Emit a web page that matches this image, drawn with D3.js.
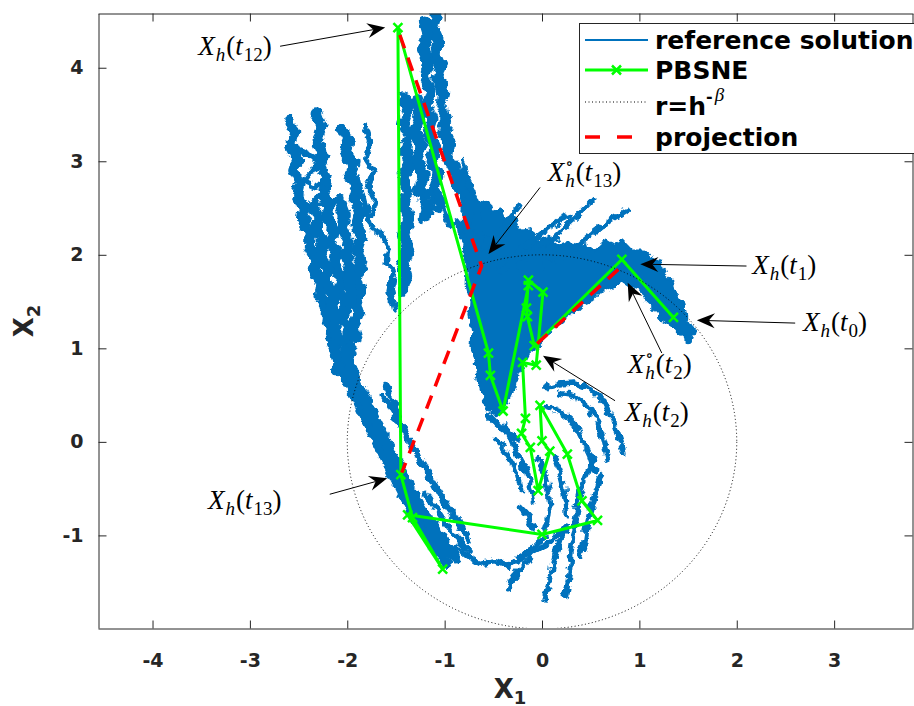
<!DOCTYPE html>
<html>
<head>
<meta charset="utf-8">
<title>PBSNE projection</title>
<script src="https://cdn.jsdelivr.net/npm/d3@7"></script>
<style>
  body { margin: 0; background: #fff; }
</style>
</head>
<body>
<svg id="chart" width="914" height="706"></svg>
<script>
// ---- data ----
var xTicks = [-4, -3, -2, -1, 0, 1, 2, 3];
var yTicks = [-1, 0, 1, 2, 3, 4];
var radius = [2]; // r = h^-beta

// PBSNE iterates (x1, x2)
var pbsne = [[1.35,1.33],[0.82,1.95],[-0.08,1.03],[-0.15,1.34],[-0.16,1.43],[-0.14,1.73],[0.01,1.60],
  [-0.06,0.82],[-0.20,0.85],[-0.17,0.25],[-0.21,0.09],[-0.12,-0.06],[-0.04,-0.52],[0.08,-0.10],
  [0.00,0.01],[-0.02,0.39],[0.26,-0.13],[0.41,-0.63],[0.57,-0.84],[0.00,-0.99],[-1.38,-0.78],
  [-1.02,-1.36],[-1.33,-0.81],[-1.45,-0.35],[-1.48,4.43],[-0.55,0.95],[-0.53,0.71],[-0.40,0.33],
  [-0.14,1.67]];

// projections onto the circle
var projT2 = [[-0.05,1.05],[0.80,1.86]];
var projT13 = [[-1.46,4.35],[-0.62,1.88],[-1.44,-0.33]];

// reference solution: dense fan outline
var refBlobs = [
  [[-0.82,3.01],[-0.76,2.88],[-0.78,2.74],[-0.70,2.67],[-0.64,2.53],[-0.55,2.58],[-0.51,2.45],[-0.43,2.49],
   [-0.37,2.34],[-0.29,2.39],[-0.23,2.26],[-0.12,2.28],[-0.04,2.15],[0.06,2.19],[0.14,2.09],[0.25,2.13],
   [0.34,2.04],[0.44,2.11],[0.54,2.04],[0.65,2.15],[0.74,2.09],[0.82,2.15],[0.92,2.04],[1.03,2.04],
   [1.11,1.96],[1.21,1.92],[1.25,1.79],[1.34,1.70],[1.38,1.56],[1.46,1.46],[1.48,1.32],[1.56,1.19],
   [1.52,1.06],[1.42,1.15],[1.34,1.25],[1.23,1.32],[1.16,1.42],[1.07,1.51],[1.01,1.62],[0.90,1.66],
   [0.82,1.72],[0.72,1.66],[0.62,1.62],[0.54,1.53],[0.44,1.49],[0.37,1.42],[0.27,1.36],[0.18,1.27],
   [0.10,1.21],[0.03,1.10],[-0.04,1.02],[-0.12,0.97],[-0.18,0.85],[-0.25,0.74],[-0.29,0.59],[-0.35,0.46],
   [-0.41,0.33],[-0.49,0.29],[-0.58,0.40],[-0.62,0.55],[-0.66,0.70],[-0.68,0.87],[-0.72,1.03],[-0.71,1.19],
   [-0.74,1.35],[-0.73,1.51],[-0.77,1.67],[-0.76,1.83],[-0.80,1.99],[-0.79,2.15],[-0.83,2.31],[-0.81,2.47],
   [-0.85,2.63],[-0.83,2.82]]
];
// reference solution: wide bands (columns and outer arcs)
var refBands = [
  [[-2.59,3.44],[-2.54,3.31],[-2.58,3.17],[-2.51,3.03],[-2.55,2.90],[-2.48,2.76],[-2.51,2.63],[-2.44,2.49],[-2.46,2.37],[-2.38,2.23],[-2.39,2.10],[-2.32,1.96],[-2.34,1.83],[-2.26,1.69],[-2.28,1.56],[-2.20,1.42],[-2.21,1.30],[-2.14,1.16],[-2.15,1.03],[-2.09,0.89],[-2.11,0.76]],
  [[-2.32,3.52],[-2.27,3.38],[-2.31,3.22],[-2.25,3.09],[-2.28,2.96],[-2.22,2.82],[-2.25,2.69],[-2.18,2.55],[-2.21,2.42],[-2.14,2.28],[-2.17,2.15],[-2.10,2.01],[-2.13,1.88],[-2.06,1.75],[-2.09,1.62],[-2.01,1.48],[-2.05,1.35],[-1.98,1.21],[-2.01,1.08],[-1.96,0.95],[-1.99,0.85]],
  [[-2.06,3.35],[-1.99,3.22],[-2.02,3.09],[-1.94,2.98],[-1.97,2.85],[-1.90,2.71],[-1.93,2.58],[-1.87,2.44],[-1.91,2.31],[-1.86,2.17],[-1.90,2.05],[-1.85,1.91],[-1.90,1.78],[-1.86,1.64],[-1.92,1.51],[-1.88,1.37],[-1.94,1.24],[-1.91,1.10]],
  [[-2.36,2.53],[-2.30,2.39],[-2.32,2.26],[-2.25,2.12],[-2.27,1.99],[-2.20,1.85],[-2.22,1.72],[-2.15,1.58],[-2.17,1.46],[-2.11,1.32],[-2.13,1.19],[-2.07,1.05]],
  [[-2.08,2.58],[-2.02,2.42],[-2.05,2.28],[-1.99,2.15],[-2.01,2.01],[-1.97,1.88],[-1.99,1.75],[-1.96,1.62],[-1.98,1.48]],
  [[-1.08,4.57],[-1.12,4.43],[-1.06,4.29],[-1.10,4.15],[-1.04,4.01],[-1.07,3.88],[-1.01,3.74],[-1.04,3.60],[-0.98,3.46],[-1.01,3.32],[-0.95,3.18],[-0.97,3.04],[-0.89,2.90],[-0.88,2.76],[-0.80,2.63],[-0.76,2.49],[-0.68,2.37],[-0.64,2.23],[-0.55,2.10],[-0.52,1.96]],
  [[-1.21,4.49],[-1.17,4.35],[-1.22,4.19],[-1.16,4.05],[-1.21,3.89],[-1.14,3.75],[-1.19,3.59],[-1.12,3.45],[-1.17,3.29],[-1.10,3.15],[-1.14,2.99],[-1.07,2.85],[-1.11,2.69],[-1.03,2.56]],
  [[-1.42,3.70],[-1.37,3.57],[-1.42,3.42],[-1.36,3.27],[-1.41,3.12],[-1.36,2.97],[-1.42,2.82],[-1.37,2.67],[-1.42,2.52],[-1.37,2.37],[-1.42,2.22],[-1.38,2.07],[-1.43,1.92],[-1.39,1.77],[-1.43,1.62]],
  [[-1.29,3.65],[-1.25,3.49],[-1.31,3.33],[-1.24,3.17],[-1.29,3.01],[-1.22,2.85],[-1.26,2.69],[-1.18,2.53],[-1.20,2.39]],
  [[-2.15,1.03],[-2.08,0.81],[-1.97,0.60],[-1.87,0.39],[-1.77,0.17],[-1.66,-0.07],[-1.54,-0.31],[-1.44,-0.52],[-1.34,-0.74],[-1.20,-0.95],[-1.08,-1.15],[-0.98,-1.30]],
  [[-2.02,0.97],[-1.95,0.74],[-1.85,0.52],[-1.75,0.30],[-1.62,0.04],[-1.51,-0.20],[-1.39,-0.44],[-1.27,-0.66],[-1.15,-0.87],[-1.03,-1.06],[-0.89,-1.23]]
];
// reference solution: thin strands
var refStrands = [
  [[-1.82,3.38],[-1.77,3.22],[-1.81,3.03],[-1.73,2.90],[-1.79,2.74],[-1.71,2.58],[-1.75,2.42]],
  [[-1.89,2.82],[-1.83,2.58],[-1.79,2.42],[-1.74,2.28],[-1.65,2.23],[-1.58,2.10],[-1.60,1.92],[-1.52,1.83],[-1.56,1.62],[-1.51,1.40]],
  [[-2.49,3.12],[-2.28,3.01],[-2.43,2.79],[-2.23,2.69],[-2.38,2.53],[-2.13,2.58]],
  [[-1.60,0.63],[-1.54,0.44],[-1.46,0.25],[-1.36,0.01],[-1.25,-0.20],[-1.13,-0.42],[-0.99,-0.69],[-0.86,-0.87],[-0.74,-1.06]],
  [[-1.63,0.49],[-1.51,0.28],[-1.41,0.10],[-1.28,-0.12],[-1.17,-0.33],[-1.05,-0.55],[-0.92,-0.76],[-0.81,-0.93]],
  [[-1.20,-0.55],[-1.10,-0.69],[-1.00,-0.85],[-0.89,-1.01],[-0.76,-1.15]],
  [[-0.89,-1.11],[-0.76,-1.22],[-0.64,-1.30],[-0.48,-1.27],[-0.33,-1.33],[-0.23,-1.25],[-0.10,-1.15],[0.03,-1.01]],
  [[-0.35,-1.57],[-0.28,-1.43],[-0.21,-1.33],[-0.09,-1.19],[0.03,-1.11],[0.13,-1.01],[0.24,-0.95]],
  [[0.03,-1.70],[0.06,-1.54],[0.10,-1.38],[0.14,-1.22],[0.18,-1.06],[0.25,-0.90]],
  [[0.24,-1.65],[0.27,-1.49],[0.29,-1.27],[0.31,-1.06],[0.34,-0.85],[0.37,-0.63],[0.41,-0.47],[0.47,-0.31],[0.54,-0.20]],
  [[0.39,-1.22],[0.44,-1.06],[0.47,-0.85],[0.51,-0.69],[0.55,-0.52],[0.60,-0.36]],
  [[0.05,0.58],[0.18,0.62],[0.34,0.63],[0.49,0.57],[0.63,0.44],[0.73,0.22],[0.80,0.01],[0.84,-0.12]],
  [[0.18,0.52],[0.34,0.49],[0.47,0.39],[0.57,0.22],[0.64,0.01],[0.68,-0.18]],
  [[0.03,0.39],[0.18,0.33],[0.31,0.22],[0.41,0.03],[0.49,-0.15],[0.54,-0.31]],
  [[-0.46,0.01],[-0.38,-0.10],[-0.31,-0.22],[-0.25,-0.36],[-0.21,-0.52]],
  [[-0.38,0.17],[-0.31,0.01],[-0.25,-0.15],[-0.16,-0.31],[-0.12,-0.47],[-0.09,-0.63]],
  [[-0.02,-0.20],[0.03,-0.36],[0.06,-0.52],[0.08,-0.69],[0.06,-0.85],[0.03,-0.95]],
  [[0.13,-0.15],[0.18,-0.31],[0.22,-0.47],[0.24,-0.63],[0.25,-0.79]],
  [[-0.55,0.28],[-0.45,0.17],[-0.35,0.10],[-0.25,0.03]],
  [[-0.23,-0.69],[-0.14,-0.79],[-0.10,-0.93]],
  [[-0.79,2.85],[-0.71,2.69],[-0.76,2.58],[-0.66,2.45],[-0.72,2.31],[-0.61,2.21],[-0.66,2.05],[-0.53,1.96]],
  [[-1.25,2.58],[-1.15,2.69],[-1.10,2.47],[-1.00,2.53],[-0.95,2.31],[-0.86,2.37],[-0.82,2.15]],
  [[-0.23,1.88],[-0.02,2.04],[0.18,2.24],[0.37,2.42],[0.54,2.60]],
  [[0.03,1.88],[0.29,2.04],[0.49,2.21],[0.70,2.37],[0.86,2.47]],
  [[-0.38,1.92],[-0.17,2.10],[0.03,2.26],[0.18,2.37],[0.29,2.42]],
  [[-0.43,1.83],[-0.23,1.96],[-0.02,2.10],[0.16,2.17]],
  [[-0.53,2.05],[-0.43,2.26],[-0.31,2.42],[-0.23,2.53]]
];

// annotations: tail, tip, label anchor (data coords), label parts
var notes = [
  {tail: [-2.69,4.23], tip: [-1.61,4.43], at: [-3.53,4.14], circ: false, idx: "12"},
  {tail: [-0.02,2.72], tip: [-0.55,2.01], at: [0.06,2.79],  circ: true,  idx: "13"},
  {tail: [2.10,1.88],  tip: [1.01,1.90],  at: [2.16,1.80],  circ: false, idx: "1"},
  {tail: [2.60,1.27],  tip: [1.59,1.30],  at: [2.68,1.19],  circ: false, idx: "0"},
  {tail: [1.23,0.95],  tip: [0.88,1.70],  at: [0.88,0.74],  circ: true,  idx: "2"},
  {tail: [0.75,0.44],  tip: [0.01,0.92],  at: [0.85,0.22],  circ: false, idx: "2"},
  {tail: [-2.18,-0.56], tip: [-1.59,-0.39], at: [-3.43,-0.72], circ: false, idx: "13"}
];

var legendLabels = ["reference solution", "PBSNE", "r=h", "projection"];

// ---- drawing ----
var blue = "#0072BD", green = "#00FF00", red = "#FF0000", ink = "#262626";
var svg = d3.select("#chart");
var x = d3.scaleLinear().domain([-4.56, 3.81]).range([98, 913]);
var y = d3.scaleLinear().domain([-1.99, 4.58]).range([628, 13.5]);
var line = d3.line().x(function(d) { return x(d[0]); }).y(function(d) { return y(d[1]); });

var defs = svg.append("defs");
defs.append("clipPath").attr("id", "plotclip")
  .append("rect").attr("x", 98).attr("y", 13.5).attr("width", 815).attr("height", 614.5);
// roughen the sketched reference paths so they read like a sampled path
var rough = defs.append("filter").attr("id", "rough").attr("filterUnits", "userSpaceOnUse")
  .attr("x", 0).attr("y", 0).attr("width", 914).attr("height", 706);
rough.append("feTurbulence").attr("type", "fractalNoise").attr("baseFrequency", 0.12)
  .attr("numOctaves", 3).attr("seed", 4).attr("result", "noise");
rough.append("feDisplacementMap").attr("in", "SourceGraphic").attr("in2", "noise")
  .attr("scale", 9).attr("xChannelSelector", "R").attr("yChannelSelector", "G");

var plot = svg.append("g").attr("clip-path", "url(#plotclip)");

// reference solution
var ref = plot.append("g").attr("filter", "url(#rough)")
  .attr("stroke", blue).attr("stroke-linejoin", "round").attr("stroke-linecap", "round");
ref.append("g").selectAll("path").data(refBlobs).join("path")
  .attr("d", function(d) { return line(d) + "Z"; })
  .attr("fill", blue).attr("stroke-width", 3);
ref.append("g").selectAll("path").data(refBands).join("path")
  .attr("d", line).attr("fill", "none").attr("stroke-width", 11);
ref.append("g").selectAll("path").data(refStrands).join("path")
  .attr("d", line).attr("fill", "none").attr("stroke-width", 5.5);

// PBSNE
plot.append("path").datum(pbsne).attr("d", line)
  .attr("fill", "none").attr("stroke", green).attr("stroke-width", 3).attr("stroke-linejoin", "round");
function xMark(sel, px, py) {
  var s = 4.5;
  sel.append("path").attr("d", "M" + (px - s) + "," + (py - s) + "L" + (px + s) + "," + (py + s) +
      "M" + (px - s) + "," + (py + s) + "L" + (px + s) + "," + (py - s))
    .attr("stroke", green).attr("stroke-width", 2.5).attr("fill", "none");
}
var mk = plot.append("g");
pbsne.forEach(function(d) { xMark(mk, x(d[0]), y(d[1])); });

// r = h^-beta circle
plot.append("ellipse").attr("cx", x(0)).attr("cy", y(0))
  .attr("rx", x(radius[0]) - x(0)).attr("ry", y(0) - y(radius[0]))
  .attr("fill", "none").attr("stroke", "#000").attr("stroke-width", 1).attr("stroke-dasharray", "1,2.5");

// projections
plot.selectAll(".proj").data([projT2, projT13]).join("path").attr("class", "proj")
  .attr("d", line).attr("fill", "none").attr("stroke", red)
  .attr("stroke-width", 3.5).attr("stroke-dasharray", "14,10");

// axes box with inward ticks
function styleAxis(g) {
  g.selectAll("line,path").attr("stroke", ink).attr("stroke-width", 1);
  g.selectAll("text").attr("font-family", "DejaVu Sans").attr("font-weight", "bold")
    .attr("font-size", 19).attr("fill", ink);
}
svg.append("g").attr("transform", "translate(0,628.5)")
  .call(d3.axisBottom(x).tickValues(xTicks).tickSizeInner(-8).tickSizeOuter(0).tickPadding(25).tickFormat(String))
  .call(styleAxis);
svg.append("g").attr("transform", "translate(0,13.5)")
  .call(d3.axisTop(x).tickValues(xTicks).tickSizeInner(-8).tickSizeOuter(0).tickFormat(""))
  .call(styleAxis);
svg.append("g").attr("transform", "translate(98.5,0)")
  .call(d3.axisLeft(y).tickValues(yTicks).tickSizeInner(-8).tickSizeOuter(0).tickPadding(15).tickFormat(String))
  .call(styleAxis);
svg.append("g").attr("transform", "translate(912.5,0)")
  .call(d3.axisRight(y).tickValues(yTicks).tickSizeInner(-8).tickSizeOuter(0).tickFormat(""))
  .call(styleAxis);

// axis labels
var xl = svg.append("text").attr("x", 510).attr("y", 698).attr("text-anchor", "middle")
  .attr("font-family", "DejaVu Sans").attr("font-weight", "bold").attr("fill", ink).attr("font-size", 26);
xl.append("tspan").text("X");
xl.append("tspan").attr("font-size", 18).attr("dy", 6).text("1");
var yl = svg.append("text").attr("transform", "translate(33,321) rotate(-90)").attr("text-anchor", "middle")
  .attr("font-family", "DejaVu Sans").attr("font-weight", "bold").attr("fill", ink).attr("font-size", 26);
yl.append("tspan").text("X");
yl.append("tspan").attr("font-size", 18).attr("dy", 7).text("2");

// annotations: one text element per label, parts as tspans
var F = 27, S = 19, serif = "Liberation Serif, DejaVu Serif, serif";
function measure(str, size) {
  var t = svg.append("text").attr("font-family", serif).attr("font-size", size).text(str);
  var w = t.node().getComputedTextLength();
  t.remove();
  return w;
}
function mathLabel(sel, px, py, n) {
  var t = sel.append("text").attr("x", px).attr("y", py)
    .attr("font-family", serif).attr("font-size", F).attr("fill", "#000");
  t.append("tspan").attr("font-style", "italic").text("X");
  if (n.circ) {
    var wc = measure("\u2218", S - 2);
    t.append("tspan").attr("font-size", S - 2).attr("dx", 1).attr("dy", -12).text("\u2218");
    t.append("tspan").attr("font-size", S).attr("font-style", "italic").attr("dx", -wc).attr("dy", 18).text("h");
  } else {
    t.append("tspan").attr("font-size", S).attr("font-style", "italic").attr("dx", 1).attr("dy", 6).text("h");
  }
  t.append("tspan").attr("dx", 1).attr("dy", -6).text("(");
  t.append("tspan").attr("font-style", "italic").text("t");
  t.append("tspan").attr("font-size", S).attr("dx", 1).attr("dy", 6).text(n.idx);
  t.append("tspan").attr("dy", -6).text(")");
}
function arrow(sel, x1, y1, x2, y2) {
  var a = Math.atan2(y2 - y1, x2 - x1), L = 18, W = 7.5, N = 12;
  var c = Math.cos(a), s = Math.sin(a);
  function pt(u, v) { return [x2 + u * c - v * s, y2 + u * s + v * c]; }
  var nb = pt(-N, 0);
  sel.append("line").attr("x1", x1).attr("y1", y1).attr("x2", nb[0]).attr("y2", nb[1])
    .attr("stroke", "#000").attr("stroke-width", 1);
  sel.append("path").attr("d", "M" + [pt(0, 0), pt(-L, -W), nb, pt(-L, W)].map(function(p) { return p.join(","); }).join("L") + "Z")
    .attr("fill", "#000");
}
var ann = svg.append("g");
notes.forEach(function(n) {
  arrow(ann, x(n.tail[0]), y(n.tail[1]), x(n.tip[0]), y(n.tip[1]));
  mathLabel(ann, x(n.at[0]), y(n.at[1]), n);
});

// legend
var lg = svg.append("g");
lg.append("rect").attr("x", 579.5).attr("y", 23.5).attr("width", 340).attr("height", 130)
  .attr("fill", "#fff").attr("stroke", ink).attr("stroke-width", 1);
var rows = [40, 70, 102, 137];
var lx0 = 585, lx1 = 648, tx = 655;
lg.append("line").attr("x1", lx0).attr("x2", lx1).attr("y1", rows[0]).attr("y2", rows[0])
  .attr("stroke", blue).attr("stroke-width", 2);
lg.append("line").attr("x1", lx0).attr("x2", lx1).attr("y1", rows[1]).attr("y2", rows[1])
  .attr("stroke", green).attr("stroke-width", 3);
xMark(lg, (lx0 + lx1) / 2, rows[1]);
lg.append("line").attr("x1", lx0).attr("x2", lx1).attr("y1", rows[2]).attr("y2", rows[2])
  .attr("stroke", "#000").attr("stroke-width", 1).attr("stroke-dasharray", "1,2.5");
lg.append("line").attr("x1", lx0).attr("x2", lx1).attr("y1", rows[3]).attr("y2", rows[3])
  .attr("stroke", red).attr("stroke-width", 3.5).attr("stroke-dasharray", "15,17");
var baseOff = [9, 9, 13, 8.5];
legendLabels.forEach(function(s, i) {
  var t = lg.append("text").attr("x", tx).attr("y", rows[i] + baseOff[i])
    .attr("font-family", "DejaVu Sans").attr("font-weight", "bold").attr("font-size", 25).attr("fill", "#000");
  t.append("tspan").text(s);
  if (i === 2) {
    t.append("tspan").attr("font-size", 16).attr("dy", -13).text("-");
    t.append("tspan").attr("font-family", serif).attr("font-weight", "normal")
      .attr("font-style", "italic").attr("font-size", 19).attr("dy", -1).attr("dx", 2).text("\u03B2");
  }
});
</script>
</body>
</html>
